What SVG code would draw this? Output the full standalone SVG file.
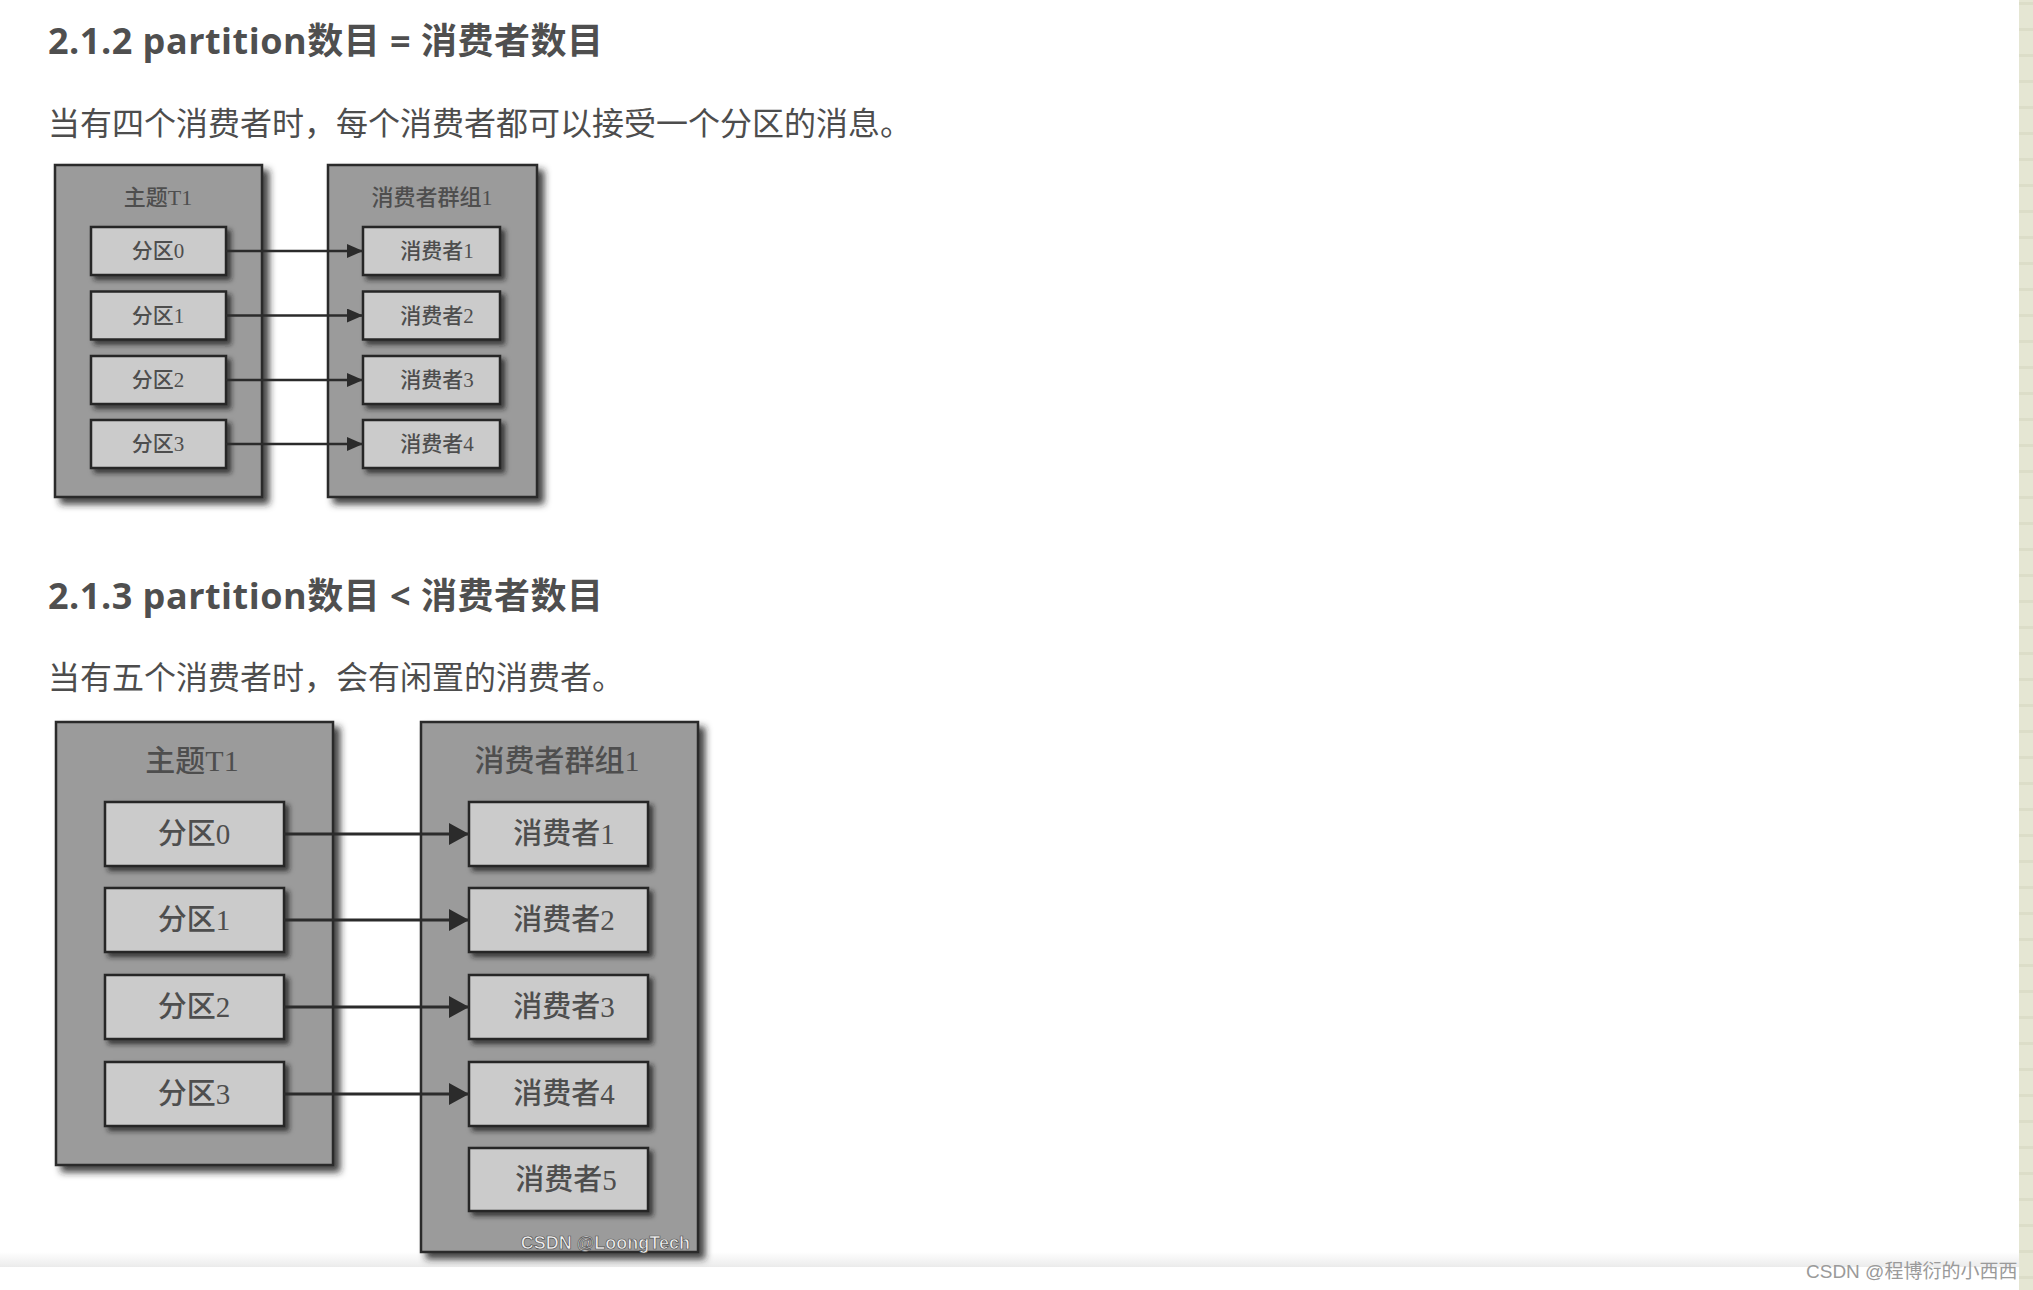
<svg xmlns="http://www.w3.org/2000/svg" width="2033" height="1290" viewBox="0 0 2033 1290">
<style>
.h{font-family:"Open Sans","Noto Sans CJK SC",sans-serif;font-weight:700;font-size:36px;fill:#4f4f4f}
.p{font-family:"Noto Sans CJK SC",sans-serif;font-size:32px;fill:#4d4d4d}
.outer{fill:#9b9b9b;stroke:#2b2b2b;stroke-width:2.5}
.inner{fill:#cbcbcb;stroke:#262626;stroke-width:2.5}
.d{font-family:"Liberation Serif","Noto Sans CJK SC",serif;font-weight:500;fill:#4e4e4e;text-anchor:middle}
.t1{font-size:22px}
.l1{font-size:21px}
.t2{font-size:30px}
.l2{font-size:29px}
.wm{font-family:"Liberation Sans",Arial,sans-serif;font-weight:700;font-size:18px;fill:#f0f0f0;stroke:#555;stroke-width:0.7;text-anchor:end}
.a1{stroke:#2b2b2b;stroke-width:2.5;fill:none;marker-end:url(#ah1)}
.a2{stroke:#2b2b2b;stroke-width:3;fill:none;marker-end:url(#ah2)}
</style>
<defs>
<filter id="sh" x="-20%" y="-20%" width="150%" height="150%">
<feDropShadow dx="6" dy="6" stdDeviation="3.5" flood-color="#1a1a1a" flood-opacity="0.85"/>
</filter>
<filter id="sh2" x="-20%" y="-20%" width="150%" height="150%">
<feDropShadow dx="4" dy="4" stdDeviation="2.5" flood-color="#1a1a1a" flood-opacity="0.75"/>
</filter>
<marker id="ah1" markerUnits="userSpaceOnUse" markerWidth="16" markerHeight="14" refX="16" refY="7" orient="auto">
<path d="M0,0 L16,7 L0,14 Z" fill="#2b2b2b"/>
</marker>
<marker id="ah2" markerUnits="userSpaceOnUse" markerWidth="20" markerHeight="22" refX="20" refY="11" orient="auto">
<path d="M0,0 L20,11 L0,22 Z" fill="#2b2b2b"/>
</marker>
<pattern id="stripe" x="0" y="0" width="14" height="26" patternUnits="userSpaceOnUse">
<rect width="14" height="26" fill="#e5e6d3"/>
<rect y="2" width="14" height="3" fill="#dcddc8"/>
</pattern>
<linearGradient id="foot" x1="0" y1="0" x2="0" y2="1">
<stop offset="0" stop-color="#ffffff"/>
<stop offset="1" stop-color="#ebebeb"/>
</linearGradient>
</defs>
<rect width="2033" height="1290" fill="#ffffff"/>
<rect x="2019" y="0" width="14" height="1290" fill="url(#stripe)"/>
<rect x="0" y="1252" width="2019" height="15" fill="url(#foot)"/>

<text class="h" x="48" y="54" textLength="555" lengthAdjust="spacing">2.1.2 partition数目 = 消费者数目</text>
<text class="p" x="48" y="135">当有四个消费者时，每个消费者都可以接受一个分区的消息。</text>

<!-- Diagram 1 -->
<g id="topic1">
<rect class="outer" x="55" y="165" width="207" height="332" filter="url(#sh)"/>
<text class="d t1" x="158" y="205">主题T1</text>
</g>
<g id="group1">
<rect class="outer" x="328" y="165" width="209" height="332" filter="url(#sh)"/>
<text class="d t1" x="432" y="205">消费者群组1</text>
</g>
<g id="d1-p0"><rect class="inner" x="91" y="227" width="135" height="48" filter="url(#sh2)"/><text class="d l1" x="158" y="258">分区0</text></g>
<g id="d1-p1"><rect class="inner" x="91" y="291.5" width="135" height="48" filter="url(#sh2)"/><text class="d l1" x="158" y="322.5">分区1</text></g>
<g id="d1-p2"><rect class="inner" x="91" y="356" width="135" height="48" filter="url(#sh2)"/><text class="d l1" x="158" y="387">分区2</text></g>
<g id="d1-p3"><rect class="inner" x="91" y="420" width="135" height="48" filter="url(#sh2)"/><text class="d l1" x="158" y="451">分区3</text></g>
<g id="d1-c1"><rect class="inner" x="363" y="227" width="137" height="48" filter="url(#sh2)"/><text class="d l1" x="437" y="258">消费者1</text></g>
<g id="d1-c2"><rect class="inner" x="363" y="291.5" width="137" height="48" filter="url(#sh2)"/><text class="d l1" x="437" y="322.5">消费者2</text></g>
<g id="d1-c3"><rect class="inner" x="363" y="356" width="137" height="48" filter="url(#sh2)"/><text class="d l1" x="437" y="387">消费者3</text></g>
<g id="d1-c4"><rect class="inner" x="363" y="420" width="137" height="48" filter="url(#sh2)"/><text class="d l1" x="437" y="451">消费者4</text></g>
<g id="connectors1">
<line class="a1" x1="226" y1="251" x2="363" y2="251"/>
<line class="a1" x1="226" y1="315.5" x2="363" y2="315.5"/>
<line class="a1" x1="226" y1="380" x2="363" y2="380"/>
<line class="a1" x1="226" y1="444" x2="363" y2="444"/>
</g>

<text class="h" x="48" y="609" textLength="555" lengthAdjust="spacing">2.1.3 partition数目 &lt; 消费者数目</text>
<text class="p" x="48" y="689">当有五个消费者时，会有闲置的消费者。</text>

<!-- Diagram 2 -->
<g id="topic2">
<rect class="outer" x="56" y="722" width="277" height="443" filter="url(#sh)"/>
<text class="d t2" x="192" y="771">主题T1</text>
</g>
<g id="group2">
<rect class="outer" x="421" y="722" width="277" height="530" filter="url(#sh)"/>
<text class="d t2" x="557" y="771">消费者群组1</text>
<text class="wm" x="690" y="1249">CSDN @LoongTech</text>
</g>
<g id="d2-p0"><rect class="inner" x="105" y="802" width="179" height="64" filter="url(#sh2)"/><text class="d l2" x="194" y="844">分区0</text></g>
<g id="d2-p1"><rect class="inner" x="105" y="888" width="179" height="64" filter="url(#sh2)"/><text class="d l2" x="194" y="930">分区1</text></g>
<g id="d2-p2"><rect class="inner" x="105" y="975" width="179" height="64" filter="url(#sh2)"/><text class="d l2" x="194" y="1017">分区2</text></g>
<g id="d2-p3"><rect class="inner" x="105" y="1062" width="179" height="64" filter="url(#sh2)"/><text class="d l2" x="194" y="1104">分区3</text></g>
<g id="d2-c1"><rect class="inner" x="469" y="802" width="179" height="64" filter="url(#sh2)"/><text class="d l2" x="564" y="844">消费者1</text></g>
<g id="d2-c2"><rect class="inner" x="469" y="888" width="179" height="64" filter="url(#sh2)"/><text class="d l2" x="564" y="930">消费者2</text></g>
<g id="d2-c3"><rect class="inner" x="469" y="975" width="179" height="64" filter="url(#sh2)"/><text class="d l2" x="564" y="1017">消费者3</text></g>
<g id="d2-c4"><rect class="inner" x="469" y="1062" width="179" height="64" filter="url(#sh2)"/><text class="d l2" x="564" y="1104">消费者4</text></g>
<g id="d2-c5"><rect class="inner" x="469" y="1148" width="179" height="63" filter="url(#sh2)"/><text class="d l2" x="566" y="1190">消费者5</text></g>
<g id="connectors2">
<line class="a2" x1="284" y1="834" x2="469" y2="834"/>
<line class="a2" x1="284" y1="920" x2="469" y2="920"/>
<line class="a2" x1="284" y1="1007" x2="469" y2="1007"/>
<line class="a2" x1="284" y1="1094" x2="469" y2="1094"/>
</g>

<text x="1806" y="1278" font-family="Liberation Sans, Noto Sans CJK SC, sans-serif" font-size="19" fill="#9a9a9a">CSDN @程博衍的小西西</text>
</svg>
